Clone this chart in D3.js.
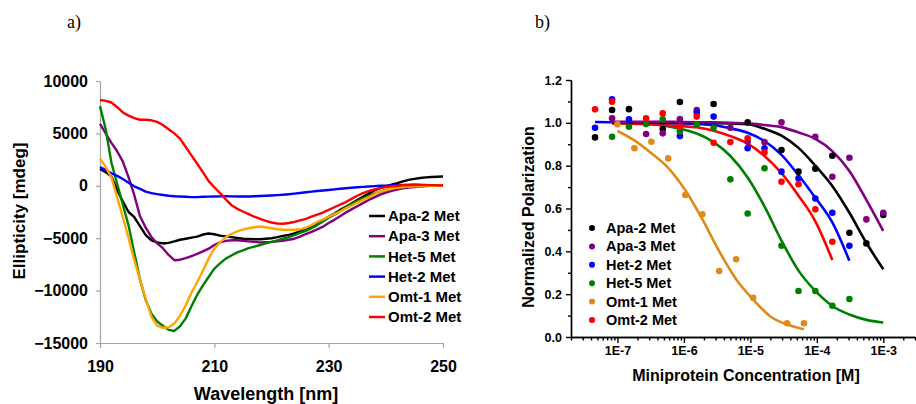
<!DOCTYPE html>
<meta charset="utf-8">
<script src="https://d3js.org/d3.v7.min.js"></script>
<style>
    body { margin: 0; background: #fff; }
    text { font-family: "Liberation Sans", Arial, sans-serif; font-weight: bold; fill: #000; }
</style>
<div id="chart"></div>
<script>
    // ---- panel a) CD spectra ----
    const wavelength = [190,191,192,193,194,195,196,197,198,199,200,201,202,203,204,205,206,207,208,209,
        210,211,212,213,214,215,216,217,218,219,220,221,222,223,224,225,226,227,228,229,
        230,231,232,233,234,235,236,237,238,239,240,241,242,243,244,245,246,247,248,249,250]

    const apa2 = [1600,1300,900,-400,-1500,-2500,-3000,-3850,-4700,-5200,-5400,-5500,-5450,-5300,-5150,-5050,-4950,-4850,-4650,-4550,
        -4620,-4750,-4830,-4900,-4980,-5050,-5080,-5100,-5100,-5050,-5000,-4900,-4780,-4680,-4550,-4350,-4150,-3950,-3650,-3300,
        -2950,-2650,-2300,-2000,-1700,-1350,-1050,-750,-450,-220,-50,120,260,420,560,660,740,800,840,870,890]
    const apa3 = [5900,5000,4100,3300,2300,800,-900,-2900,-4000,-4900,-5500,-5950,-6600,-7100,-7050,-6900,-6700,-6500,-6250,-6000,
        -5650,-5400,-5250,-5200,-5200,-5250,-5300,-5350,-5400,-5380,-5350,-5300,-5250,-5150,-5050,-4850,-4600,-4400,-4150,-3900,
        -3550,-3250,-2900,-2550,-2250,-1950,-1650,-1350,-1100,-850,-650,-480,-350,-250,-170,-110,-60,-30,0,0,0]
    const het5 = [7600,5400,2200,200,-1800,-3800,-6400,-8950,-10900,-12200,-12950,-13350,-13750,-13850,-13400,-12650,-11500,-10400,-9500,-8700,
        -7900,-7400,-6950,-6650,-6350,-6150,-5950,-5800,-5650,-5500,-5350,-5200,-5050,-4900,-4700,-4500,-4300,-4050,-3750,-3400,
        -3050,-2750,-2400,-2050,-1750,-1450,-1200,-950,-750,-550,-400,-300,-220,-150,-90,-60,-30,0,10,20,30]
    const het2 = [1800,1500,1200,950,650,300,-50,-300,-550,-700,-800,-880,-950,-1000,-1020,-1050,-1080,-1080,-1050,-1030,
        -1020,-1010,-1000,-1010,-1020,-1020,-1020,-1000,-980,-950,-920,-890,-850,-800,-750,-690,-620,-560,-500,-450,
        -400,-340,-280,-230,-180,-140,-100,-60,-30,0,20,40,60,75,90,95,80,60,40,20,0]
    const omt1 = [2600,1800,800,-1100,-3000,-5000,-7100,-8950,-10800,-12500,-13350,-13550,-13500,-13150,-12400,-11400,-10200,-9200,-8100,-6950,
        -6000,-5400,-4900,-4600,-4350,-4180,-4050,-3950,-3880,-3950,-4050,-4150,-4200,-4200,-4200,-4150,-4000,-3750,-3450,-3200,
        -2950,-2700,-2450,-2150,-1900,-1600,-1350,-1100,-800,-550,-400,-280,-180,-120,-70,-50,-30,-10,0,0,0]
    const omt2 = [8200,8100,7950,7500,7000,6700,6450,6300,6300,6250,6100,5800,5400,5000,4500,3700,2900,2100,1300,450,
        -150,-700,-1300,-1850,-2200,-2450,-2700,-2950,-3150,-3350,-3500,-3600,-3620,-3550,-3450,-3300,-3150,-2950,-2750,-2550,
        -2300,-2050,-1800,-1550,-1250,-950,-700,-500,-350,-220,-120,-50,0,50,80,95,90,80,60,40,30]

    const cdNames = ["Apa-2 Met","Apa-3 Met","Het-5 Met","Het-2 Met","Omt-1 Met","Omt-2 Met"]
    const cdColors = ["#000000","#800080","#008000","#0000ff","#ffa500","#ff0000"]
    const cdSeries = [apa2, apa3, het5, het2, omt1, omt2]

    // ---- panel b) polarization ----
    const conc = [4.6e-8,8.3e-8,1.49e-7,2.7e-7,4.8e-7,8.7e-7,1.56e-6,2.8e-6,5.0e-6,9.1e-6,1.63e-5,2.94e-5,5.3e-5,9.5e-5,1.71e-4,3.09e-4,5.56e-4,1e-3]
    const concOmt1 = [1.0e-7,1.8e-7,3.24e-7,5.8e-7,1.05e-6,1.89e-6,3.4e-6,6.1e-6,1.1e-5,1.98e-5,3.57e-5,6.4e-5]

    const ptApa2 = [0.932,1.06,1.064,null,0.971,1.097,null,1.088,null,1.002,null,0.873,0.772,0.786,0.846,0.487,0.437,0.57]
    const ptApa3 = [null,1.021,null,0.948,0.951,1.018,1.06,null,0.977,0.912,0.91,1.002,null,0.935,0.748,0.837,0.549,0.58]
    const ptHet2 = [0.977,1.11,1.016,null,null,0.938,1.047,1.029,null,0.881,0.881,0.772,0.741,0.647,0.58,0.426,null,null]
    const ptHet5 = [null,0.935,0.982,0.994,1.016,0.96,0.993,0.977,0.736,0.577,0.788,0.426,0.215,0.215,0.146,0.177,null,null]
    const ptOmt2 = [1.063,1.099,null,1.021,1.044,0.982,1.029,0.907,0.91,0.928,0.862,0.725,0.713,0.596,0.445,null,null,null]
    const ptOmt1 = [0.993,0.881,0.912,0.834,0.663,0.573,0.308,0.363,0.183,null,0.064,0.064]

    // fitted curves at the same concentrations
    const fitApa2 = [null,1.003,1.003,1.002,1.002,1.0,1.0,0.999,0.997,0.994,0.972,0.94,0.883,0.80,0.705,0.58,0.44,0.316]
    const fitApa3 = [null,1.005,1.005,1.005,1.005,1.004,1.003,1.002,1.0,0.998,0.99,0.98,0.955,0.925,0.868,0.775,0.64,0.495]
    const fitHet2 = [1.004,1.003,1.002,1.001,1.0,0.998,0.995,0.99,0.974,0.954,0.915,0.85,0.755,0.65,0.535,0.356,null,null]
    const fitHet5 = [null,1.0,0.999,0.995,0.988,0.973,0.95,0.91,0.845,0.745,0.61,0.45,0.31,0.215,0.145,0.105,0.08,0.068]
    const fitOmt2 = [null,0.997,0.996,0.994,0.99,0.985,0.979,0.963,0.938,0.903,0.845,0.765,0.66,0.54,0.36,null,null,null]
    const fitOmt1 = [0.962,0.918,0.858,0.79,0.685,0.55,0.40,0.27,0.175,0.097,0.058,0.036]

    const fpNames = ["Apa-2 Met","Apa-3 Met","Het-2 Met","Het-5 Met","Omt-1 Met","Omt-2 Met"]
    const fpColors = ["#000000","#800080","#0000ff","#008000","#e08a1c","#ff0000"]

    const svg = d3.select("#chart").append("svg")
        .attr("width", 916)
        .attr("height", 404)

    // panel letters
    svg.append("text").attr("x", 67).attr("y", 28).text("a)")
        .style("font-family", "'Liberation Serif', 'Times New Roman', serif").style("font-weight", "normal").style("font-size", "18px")
    svg.append("text").attr("x", 535).attr("y", 28).text("b)")
        .style("font-family", "'Liberation Serif', 'Times New Roman', serif").style("font-weight", "normal").style("font-size", "18px")

    // ================= panel a =================
    const x1 = d3.scaleLinear().domain([190, 250]).range([100, 443])
    const y1 = d3.scaleLinear().domain([-15000, 10000]).range([343, 81])

    const gx1 = svg.append("g")
        .attr("transform", "translate(0,343)")
        .call(d3.axisBottom(x1).tickValues([190, 210, 230, 250]).tickSize(5).tickSizeOuter(0).tickPadding(13))
    const gy1 = svg.append("g")
        .attr("transform", "translate(100,0)")
        .call(d3.axisLeft(y1).tickValues([-15000, -10000, -5000, 0, 5000, 10000]).tickSize(4).tickSizeOuter(0).tickPadding(8)
            .tickFormat(d3.format("d")))
    for (const g of [gx1, gy1]) {
        g.selectAll("path,line").attr("stroke", "#a6a6a6").attr("stroke-width", 1.2)
        g.selectAll("text").style("font-size", "16px").style("font-family", "'Liberation Sans', Arial, sans-serif").style("font-weight", "bold").attr("fill", "#000")
    }

    const line1 = d3.line()
        .x((d, i) => x1(wavelength[i]))
        .y(d => y1(d))

    cdSeries.forEach((s, k) => {
        svg.append("path")
            .datum(s)
            .attr("fill", "none")
            .attr("stroke", cdColors[k])
            .attr("stroke-width", 2.4)
            .attr("stroke-linejoin", "round")
            .attr("d", line1)
    })

    svg.append("text")
        .attr("x", 266).attr("y", 400)
        .attr("text-anchor", "middle")
        .style("font-size", "18px")
        .text("Wavelength [nm]")
    svg.append("text")
        .attr("transform", "translate(19,211) rotate(-90)")
        .attr("text-anchor", "middle")
        .attr("dy", "0.35em")
        .style("font-size", "17px")
        .text("Ellipticity [mdeg]")

    cdNames.forEach((n, k) => {
        const yy = 216 + k * 20.2
        svg.append("line").attr("x1", 369).attr("x2", 385).attr("y1", yy).attr("y2", yy)
            .attr("stroke", cdColors[k]).attr("stroke-width", 2.5)
        svg.append("text").attr("x", 388).attr("y", yy).attr("dy", "0.35em")
            .style("font-size", "15px").text(n)
    })

    // ================= panel b =================
    const x2 = d3.scaleLog().domain([2e-8, 3e-3]).range([571, 915])
    const y2 = d3.scaleLinear().domain([0, 1.2]).range([337, 80])

    const minorX = []
    for (let e = -8; e <= -3; e++) {
        for (let m = 2; m <= 9; m++) {
            const v = m * Math.pow(10, e)
            if (v >= 2e-8 && v <= 3e-3) minorX.push(v)
        }
    }

    const axesB = [
        svg.append("g")
            .attr("transform", "translate(0,337)")
            .call(d3.axisBottom(x2).tickValues(minorX).tickSize(3.5).tickSizeOuter(0).tickFormat("")),
        svg.append("g")
            .attr("transform", "translate(0,337)")
            .call(d3.axisBottom(x2).tickValues([1e-7, 1e-6, 1e-5, 1e-4, 1e-3]).tickSize(6).tickSizeOuter(0).tickPadding(3)
                .tickFormat(d => "1E" + Math.round(Math.log10(d)))),
        svg.append("g")
            .attr("transform", "translate(571,0)")
            .call(d3.axisLeft(y2).tickValues([0.1, 0.3, 0.5, 0.7, 0.9, 1.1]).tickSize(3).tickSizeOuter(0).tickFormat("")),
        svg.append("g")
            .attr("transform", "translate(571,0)")
            .call(d3.axisLeft(y2).tickValues([0, 0.2, 0.4, 0.6, 0.8, 1.0, 1.2]).tickSize(5).tickSizeOuter(0).tickPadding(4)
                .tickFormat(d3.format(".1f")))
    ]
    axesB.forEach(g => {
        g.selectAll("path,line").attr("stroke", "#000").attr("stroke-width", 1.4)
        g.selectAll("text").style("font-size", "12.5px").style("font-family", "'Liberation Sans', Arial, sans-serif").style("font-weight", "bold").attr("fill", "#000")
    })

    const line2 = xs => d3.line()
        .defined(d => d != null)
        .x((d, i) => x2(xs[i]))
        .y(d => y2(d))
        .curve(d3.curveMonotoneX)

    const fits = [
        [fitOmt1, concOmt1, fpColors[4]],
        [fitHet5, conc, fpColors[3]],
        [fitOmt2, conc, fpColors[5]],
        [fitHet2, conc, fpColors[2]],
        [fitApa2, conc, fpColors[0]],
        [fitApa3, conc, fpColors[1]]
    ]
    fits.forEach(([vals, xs, c]) => {
        svg.append("path")
            .datum(vals)
            .attr("fill", "none")
            .attr("stroke", c)
            .attr("stroke-width", 2.6)
            .attr("d", line2(xs))
    })

    const pts = [
        [ptApa2, conc, fpColors[0]],
        [ptApa3, conc, fpColors[1]],
        [ptHet2, conc, fpColors[2]],
        [ptHet5, conc, fpColors[3]],
        [ptOmt1, concOmt1, fpColors[4]],
        [ptOmt2, conc, fpColors[5]]
    ]
    pts.forEach(([vals, xs, c]) => {
        svg.append("g").selectAll("circle")
            .data(vals.map((v, i) => ({c: xs[i], v: v})).filter(d => d.v != null))
            .join("circle")
            .attr("cx", d => x2(d.c))
            .attr("cy", d => y2(d.v))
            .attr("r", 3.3)
            .attr("fill", c)
    })

    svg.append("text")
        .attr("x", 746).attr("y", 381)
        .attr("text-anchor", "middle")
        .style("font-size", "16px")
        .text("Miniprotein Concentration [M]")
    svg.append("text")
        .attr("transform", "translate(528,217) rotate(-90)")
        .attr("text-anchor", "middle")
        .attr("dy", "0.35em")
        .style("font-size", "16px")
        .text("Normalized Polarization")

    fpNames.forEach((n, k) => {
        const yy = 228 + k * 18.4
        svg.append("circle").attr("cx", 592).attr("cy", yy).attr("r", 3).attr("fill", fpColors[k])
        svg.append("text").attr("x", 606).attr("y", yy).attr("dy", "0.35em")
            .style("font-size", "14.5px").text(n)
    })
</script>
